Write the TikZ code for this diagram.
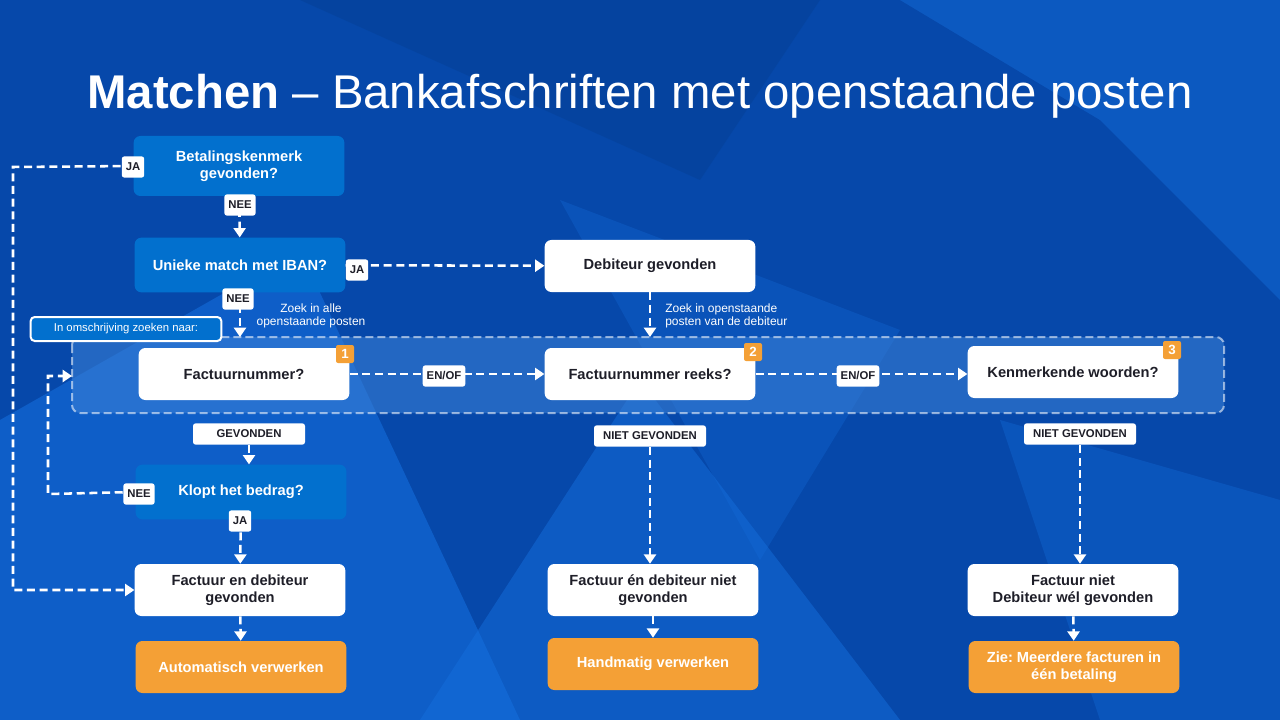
\documentclass[tikz,border=0pt]{standalone}
\usepackage{fontspec}
\setmainfont{Liberation Sans}
\usetikzlibrary{arrows.meta,positioning,calc}
\definecolor{bgdark}{RGB}{6,72,170}
\definecolor{bglight}{RGB}{20,110,220}
\definecolor{boxblue}{RGB}{2,112,206}
\definecolor{grpblue}{RGB}{60,130,215}
\definecolor{accent}{RGB}{244,160,54}
\definecolor{txtdark}{RGB}{30,30,40}
\tikzset{
  x=0.75pt,y=-0.75pt,
  qbox/.style={rounded corners=5pt,fill=boxblue,text=white,font=\bfseries\fontsize{11}{13}\selectfont,
    align=center,minimum width=158pt,inner sep=2pt},
  wbox/.style={rounded corners=5pt,fill=white,text=txtdark,font=\bfseries\fontsize{11}{13}\selectfont,
    align=center,minimum width=158pt,minimum height=39pt,inner sep=2pt},
  obox/.style={wbox,fill=accent,text=white},
  tag/.style={rounded corners=2pt,fill=white,text=txtdark,font=\bfseries\fontsize{8.5}{10}\selectfont,
    minimum height=16pt,inner sep=3pt},
  badge/.style={rounded corners=1.5pt,fill=accent,text=white,font=\bfseries\fontsize{10}{10}\selectfont,
    minimum size=13.5pt,inner sep=0pt},
  note/.style={text=white,font=\fontsize{9}{10}\selectfont,align=left,inner sep=0pt},
  flow/.style={white,line width=1.9pt,dash pattern=on 6pt off 3.5pt,-{Triangle[length=7pt,width=9pt]}},
  line/.style={white,line width=1.9pt,dash pattern=on 6pt off 3.5pt}
}
\begin{document}
\frenchspacing
\begin{tikzpicture}
% background
\fill[bgdark] (0,0) rectangle (1280,720);
\fill[bglight,opacity=.6] (0,420) -- (300,250) -- (520,720) -- (0,720) -- cycle;
\fill[bglight,opacity=.5] (420,720) -- (640,380) -- (900,720) -- cycle;
\fill[bglight,opacity=.45] (900,0) -- (1100,120) -- (1280,300) -- (1280,0) -- cycle;
\fill[bglight,opacity=.35] (1000,420) -- (1280,500) -- (1280,720) -- (1100,720) -- cycle;
\fill[bgdark!80!black,opacity=.3] (300,0) -- (700,180) -- (820,0) -- cycle;
\fill[bglight,opacity=.3] (560,200) -- (900,330) -- (760,560) -- cycle;
\useasboundingbox (0,0) rectangle (1280,720);

\node[text=white,font=\fontsize{35.5}{40}\selectfont] (title) at (640,96)
  {\textbf{Matchen} -- Bankafschriften met openstaande posten};

% search group
\fill[grpblue,opacity=.55,rounded corners=6pt] (72,337) rectangle (1224,413);
\draw[white,opacity=.55,line width=1.5pt,dash pattern=on 6pt off 3pt,rounded corners=6pt] (72,337) rectangle (1224,413);
\coordinate (gtop1) at (240,337);
\coordinate (gtop2) at (650,337);
\coordinate (gleft) at (72,376);

\node[qbox,minimum height=45pt] (kenm) at (239,166) {Betalingskenmerk\\gevonden?};
\node[qbox,minimum height=41pt] (iban) at (240,265) {Unieke match met IBAN?};
\node[wbox] (deb) at (650,266) {Debiteur gevonden};
\node[wbox] (fnr) at (244,374) {Factuurnummer?};
\node[wbox] (reeks) at (650,374) {Factuurnummer reeks?};
\node[wbox] (woord) at (1073,372) {Kenmerkende woorden?};
\node[qbox,minimum height=41pt] (bedrag) at (241,492) {Klopt het bedrag?};
\node[wbox] (fdok) at (240,590) {Factuur en debiteur\\gevonden};
\node[wbox] (fdnok) at (653,590) {Factuur én debiteur niet\\gevonden};
\node[wbox] (dwel) at (1073,590) {Factuur niet\\Debiteur wél gevonden};
\node[obox] (auto) at (241,667) {Automatisch verwerken};
\node[obox] (hand) at (653,664) {Handmatig verwerken};
\node[obox] (meer) at (1074,667) {Zie: Meerdere facturen in\\één betaling};

\node[badge] (b1) at (345,354) {1};
\node[badge] (b2) at (753,352) {2};
\node[badge] (b3) at (1172,350) {3};

\node[rounded corners=3pt,draw=white,line width=1.5pt,fill=boxblue,text=white,
  font=\fontsize{8.5}{10}\selectfont,minimum width=143pt,minimum height=18pt] (omschr) at (126,329)
  {In omschrijving zoeken naar:};
\node[note,align=center] (zoek1) at (311,316) {Zoek in alle\\openstaande posten};
\node[note,anchor=west] (zoek2) at (665,316) {Zoek in openstaande\\posten van de debiteur};

% connectors
\coordinate (jaleft) at (13,167);
\coordinate (nleft) at (48,494);
\draw[flow] (kenm) -- (iban);
\draw[flow] (kenm.west) -- (jaleft) |- (fdok.west);
\draw[flow] (iban) -- (deb);
\draw[flow] (iban) -- (gtop1);
\draw[flow] (deb) -- (gtop2);
\draw[flow] (fnr) -- (reeks);
\draw[flow] (reeks) -- (reeks -| woord.west);
\draw[flow] (bedrag.west) -- (nleft) |- (gleft);
\draw[flow] (bedrag) -- (fdok);
\draw[flow] (fdok) -- (auto);
\draw[flow] (fdnok) -- (hand);
\draw[flow] (dwel) -- (meer);

\node[tag] (ja1) at (133,167) {JA};
\node[tag] (nee1) at (240,205) {NEE};
\node[tag] (ja2) at (357,270) {JA};
\node[tag] (nee2) at (238,299) {NEE};
\node[tag] (enof1) at (444,376) {EN/OF};
\node[tag] (enof2) at (858,376) {EN/OF};
\node[tag,minimum width=84pt] (gev) at (249,434) {GEVONDEN};
\node[tag,minimum width=84pt] (ng1) at (650,436) {NIET GEVONDEN};
\node[tag,minimum width=84pt] (ng2) at (1080,434) {NIET GEVONDEN};
\node[tag] (nee3) at (139,494) {NEE};
\node[tag] (ja3) at (240,521) {JA};

\draw[flow] (gev) -- (gev |- bedrag.north);
\draw[flow] (ng1) -- (ng1 |- fdnok.north);
\draw[flow] (ng2) -- (ng2 |- dwel.north);
\end{tikzpicture}
\end{document}
